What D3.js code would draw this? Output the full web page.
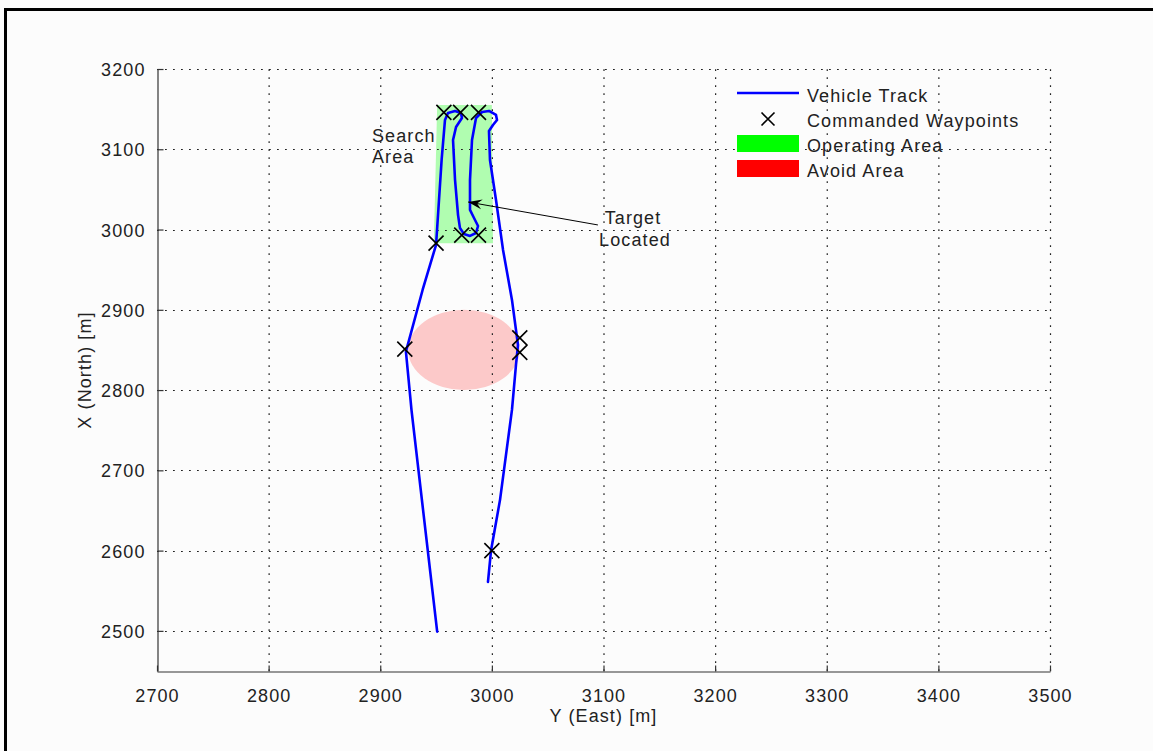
<!DOCTYPE html>
<html>
<head>
<meta charset="utf-8">
<script src="https://cdn.jsdelivr.net/npm/d3@7/dist/d3.min.js"></script>
<style>
  html, body { margin: 0; padding: 0; background: #fcfcfc; }
  svg { display: block; }
  text { font-family: "Liberation Sans", Arial, sans-serif; font-size: 18px; fill: #222; letter-spacing: 1.1px; }
</style>
</head>
<body>
<svg id="chart" width="1153" height="751"></svg>
<script>
// Axis ticks
const xTicks = [2700, 2800, 2900, 3000, 3100, 3200, 3300, 3400, 3500];
const yTicks = [2500, 2600, 2700, 2800, 2900, 3000, 3100, 3200];

// Vehicle track (East, North) in metres
const trackEast = [2951, 2928, 2923, 2938, 2950, 2955, 2958, 2960.7, 2967, 2972.3, 2973.2, 2967.9, 2965.2, 2967, 2969.7, 2971.4,
  2975, 2980.4, 2985.8, 2987.6, 2984, 2980.4, 2980.4, 2982.2, 2985.8, 2991.2, 2997.4, 3003.7, 3004.6, 3001, 2997.4, 2998.3,
  3003.7, 3010, 3018, 3023.4, 3021.6, 3018, 3007.3, 2999.2, 2996.5];
const trackNorth = [2499, 2775, 2848, 2925, 2981, 3087, 3136.5, 3145.2, 3147.7, 3145.2, 3139, 3127.8, 3111.6, 3061.7, 3018, 3002,
  2994.5, 2992, 2995.7, 3004.4, 3014.4, 3024.4, 3061.7, 3111.6, 3139, 3146.4, 3147.7, 3142.7, 3136.5, 3130.3, 3122.8, 3086.7,
  3036.8, 2974.6, 2912.3, 2856.2, 2831.3, 2775.3, 2663.2, 2599.7, 2561];

// Commanded waypoints
const waypointEast = [2922, 2950, 2957, 2972, 2988, 2973, 2988, 3025, 3025, 3000];
const waypointNorth = [2851, 2983, 3146, 3146, 3146, 2993, 2993, 2865, 2847, 2600];

// Operating area polygon
const operatingEast = [2948, 2951, 3000, 3001];
const operatingNorth = [2983, 3155, 3155, 2983];

// Avoid area: circle centre and radius
const avoidCenter = [2975, 2850];
const avoidRadius = 50;

// Target annotation: arrow tip and tail
const targetTip = [2978.7, 3034.3];
const targetTail = [3095, 3005.7];

const svg = d3.select("#chart");

// Outer figure frame
svg.append("line").attr("x1", 5).attr("y1", 9.5).attr("x2", 1153).attr("y2", 9.5)
  .attr("stroke", "#000").attr("stroke-width", 3);
svg.append("line").attr("x1", 5.5).attr("y1", 8).attr("x2", 5.5).attr("y2", 751)
  .attr("stroke", "#000").attr("stroke-width", 3);

const x = d3.scaleLinear().domain([2700, 3500]).range([157, 1050]);
const y = d3.scaleLinear().domain([2450, 3200]).range([671, 69]);

// Operating area
svg.append("polygon")
  .attr("points", operatingEast.map((e, i) => [x(e), y(operatingNorth[i])].join(",")).join(" "))
  .attr("fill", "#00ff00").attr("fill-opacity", 0.3);

// Avoid area
svg.append("ellipse")
  .attr("cx", x(avoidCenter[0])).attr("cy", y(avoidCenter[1]))
  .attr("rx", x(avoidCenter[0] + avoidRadius) - x(avoidCenter[0]))
  .attr("ry", y(avoidCenter[1]) - y(avoidCenter[1] + avoidRadius))
  .attr("fill", "#ff0000").attr("fill-opacity", 0.2);

// Dotted grid
const grid = svg.append("g").attr("stroke", "#222").attr("stroke-width", 1.2).attr("stroke-dasharray", "1.8,6.2");
xTicks.forEach(t => {
  if (t === 2700) return;
  grid.append("line").attr("x1", x(t) + 0.5).attr("x2", x(t) + 0.5).attr("y1", y(2450)).attr("y2", y(3200));
});
yTicks.forEach(t => {
  grid.append("line").attr("y1", Math.round(y(t)) + 0.5).attr("y2", Math.round(y(t)) + 0.5).attr("x1", x(2700)).attr("x2", x(3500));
});

// Axes
const xAxis = d3.axisBottom(x).tickValues(xTicks).tickSizeInner(-6).tickSizeOuter(0).tickPadding(14).tickFormat(d3.format("d"));
const yAxis = d3.axisLeft(y).tickValues(yTicks).tickSizeInner(-6).tickSizeOuter(0).tickPadding(12).tickFormat(d3.format("d"));

const gx = svg.append("g").attr("transform", `translate(0,${y(2450) + 0.5})`).call(xAxis);
const gy = svg.append("g").attr("transform", `translate(${x(2700) + 0.5},0)`).call(yAxis);
[gx, gy].forEach(g => {
  g.select(".domain").attr("stroke", "#333").attr("stroke-width", 1.2);
  g.selectAll(".tick line").attr("stroke", "#333").attr("stroke-width", 1.2);
  g.selectAll(".tick text").attr("font-family", null).attr("font-size", null).attr("fill", "#222");
});
gx.selectAll(".tick text").attr("dy", "0.9em");
gy.selectAll(".tick text").attr("dy", "0.36em");

// Axis labels
svg.append("text").attr("x", x(3100)).attr("y", 722).attr("text-anchor", "middle").text("Y (East) [m]");
svg.append("text").attr("transform", `translate(91,${y(2825)}) rotate(-90)`).attr("text-anchor", "middle").text("X (North) [m]");

// Vehicle track
const line = d3.line().x(d => x(d[0])).y(d => y(d[1])).curve(d3.curveLinear);
svg.append("path")
  .datum(trackEast.map((e, i) => [e, trackNorth[i]]))
  .attr("d", line)
  .attr("fill", "none").attr("stroke", "#0000ff").attr("stroke-width", 2.6)
  .attr("stroke-linejoin", "round").attr("stroke-linecap", "round");

// Waypoint markers
const crossHalf = 7.5;
const wp = svg.append("g").attr("stroke", "#000").attr("stroke-width", 1.6);
waypointEast.forEach((e, i) => {
  const cx = x(e), cy = y(waypointNorth[i]);
  wp.append("path").attr("d", `M${cx - crossHalf},${cy - crossHalf}L${cx + crossHalf},${cy + crossHalf}M${cx - crossHalf},${cy + crossHalf}L${cx + crossHalf},${cy - crossHalf}`);
});

// Target annotation arrow
const tipX = x(targetTip[0]), tipY = y(targetTip[1]);
const tailX = x(targetTail[0]), tailY = y(targetTail[1]);
svg.append("line").attr("x1", tailX).attr("y1", tailY).attr("x2", tipX).attr("y2", tipY)
  .attr("stroke", "#000").attr("stroke-width", 1);
const ang = Math.atan2(tipY - tailY, tipX - tailX);
const headLen = 14, headW = 5;
const bx = tipX - headLen * Math.cos(ang), by = tipY - headLen * Math.sin(ang);
const nx = -Math.sin(ang), ny = Math.cos(ang);
svg.append("path")
  .attr("d", `M${tipX},${tipY}L${bx + nx * headW},${by + ny * headW}L${bx + 0.35 * headLen * Math.cos(ang)},${by + 0.35 * headLen * Math.sin(ang)}L${bx - nx * headW},${by - ny * headW}Z`)
  .attr("fill", "#000");

svg.append("text").attr("x", 633).attr("y", 224).attr("text-anchor", "middle").text("Target");
svg.append("text").attr("x", 635).attr("y", 246).attr("text-anchor", "middle").text("Located");

// Search area label
svg.append("text").attr("x", 372).attr("y", 142).text("Search");
svg.append("text").attr("x", 372).attr("y", 163).text("Area");

// Legend
const legend = svg.append("g");
const lx0 = 737, lx1 = 799, tx = 807;
legend.append("line").attr("x1", lx0).attr("x2", lx1).attr("y1", 93).attr("y2", 93)
  .attr("stroke", "#0000ff").attr("stroke-width", 2.6);
legend.append("text").attr("x", tx).attr("y", 102).text("Vehicle Track");
const lcx = 768, lcy = 119, lh = 6.5;
legend.append("path").attr("d", `M${lcx - lh},${lcy - lh}L${lcx + lh},${lcy + lh}M${lcx - lh},${lcy + lh}L${lcx + lh},${lcy - lh}`)
  .attr("stroke", "#000").attr("stroke-width", 1.6);
legend.append("text").attr("x", tx).attr("y", 127).text("Commanded Waypoints");
legend.append("rect").attr("x", lx0).attr("y", 135).attr("width", lx1 - lx0).attr("height", 17).attr("fill", "#00ff00");
legend.append("text").attr("x", tx).attr("y", 152).text("Operating Area");
legend.append("rect").attr("x", lx0).attr("y", 160).attr("width", lx1 - lx0).attr("height", 17).attr("fill", "#ff0000");
legend.append("text").attr("x", tx).attr("y", 177).text("Avoid Area");
</script>
</body>
</html>
